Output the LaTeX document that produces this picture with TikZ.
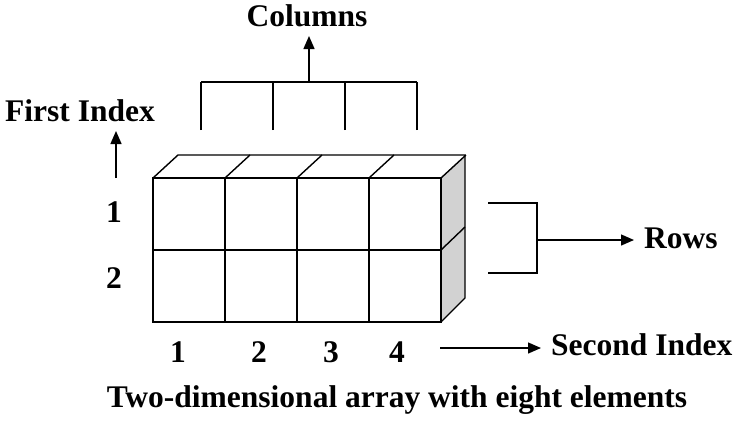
\documentclass[tikz,border=0pt]{standalone}
\usepackage{fontspec}
\setmainfont{Liberation Serif}
\usetikzlibrary{arrows.meta}
\tikzset{
  lbl/.style={font=\fontsize{31.5}{34}\selectfont\bfseries, inner sep=0pt},
  wire/.style={line width=1.4pt},
  pointer/.style={wire, -{Triangle[length=13pt,width=11pt]}}
}
\begin{document}
\begin{tikzpicture}[x=1pt,y=-1pt]
\useasboundingbox (0,0) rectangle (740,421);
% Drawing the array box
\fill[gray!35] (441,178) -- (465,155) -- (465,298) -- (441,322) -- cycle;
\draw[wire] (153,178) -- (178,155) -- (465,155) -- (465,298) -- (441,322);
\foreach \x in {225,297,369,441} {
  \draw[wire] (\x,178) -- (\x+25,155);
}
\draw[wire] (441,250) -- (465,227);
\draw[wire] (153,178) rectangle (441,322);
\draw[wire] (153,250) -- (441,250);
\foreach \x in {225,297,369} {
  \draw[wire] (\x,178) -- (\x,322);
}
% Columns bracket
\node[lbl] (columns) at (307,16) {Columns};
\foreach \x in {201,273,345,417} {
  \draw[wire] (\x,130) -- (\x,82);
}
\draw[wire] (201,82) -- (417,82);
\coordinate (colfoot) at (309,82);
\draw[pointer] (colfoot) -- (309,36);
% First index
\node[lbl] (first) at (80,111) {First Index};
\coordinate (firstfoot) at (116,178);
\draw[pointer] (firstfoot) -- (116,131);
\node[lbl] (row1) at (114,212) {1};
\node[lbl] (row2) at (114,278) {2};
% Rows bracket
\node[lbl, anchor=west] (rows) at (644,238) {Rows};
\draw[wire] (488,203) -- (537,203) -- (537,273) -- (488,273);
\coordinate (rowfoot) at (537,240);
\draw[pointer] (rowfoot) -- (634,240);
% Second index
\node[lbl] (col1) at (178,352) {1};
\node[lbl] (col2) at (259,352) {2};
\node[lbl] (col3) at (331,352) {3};
\node[lbl] (col4) at (397,352) {4};
\node[lbl, anchor=west] (second) at (551,345) {Second Index};
\coordinate (secfoot) at (440,348);
\draw[pointer] (secfoot) -- (541,348);
% Caption
\node[lbl] (caption) at (397,400) {Two-dimensional array with eight elements};
\end{tikzpicture}
\end{document}
